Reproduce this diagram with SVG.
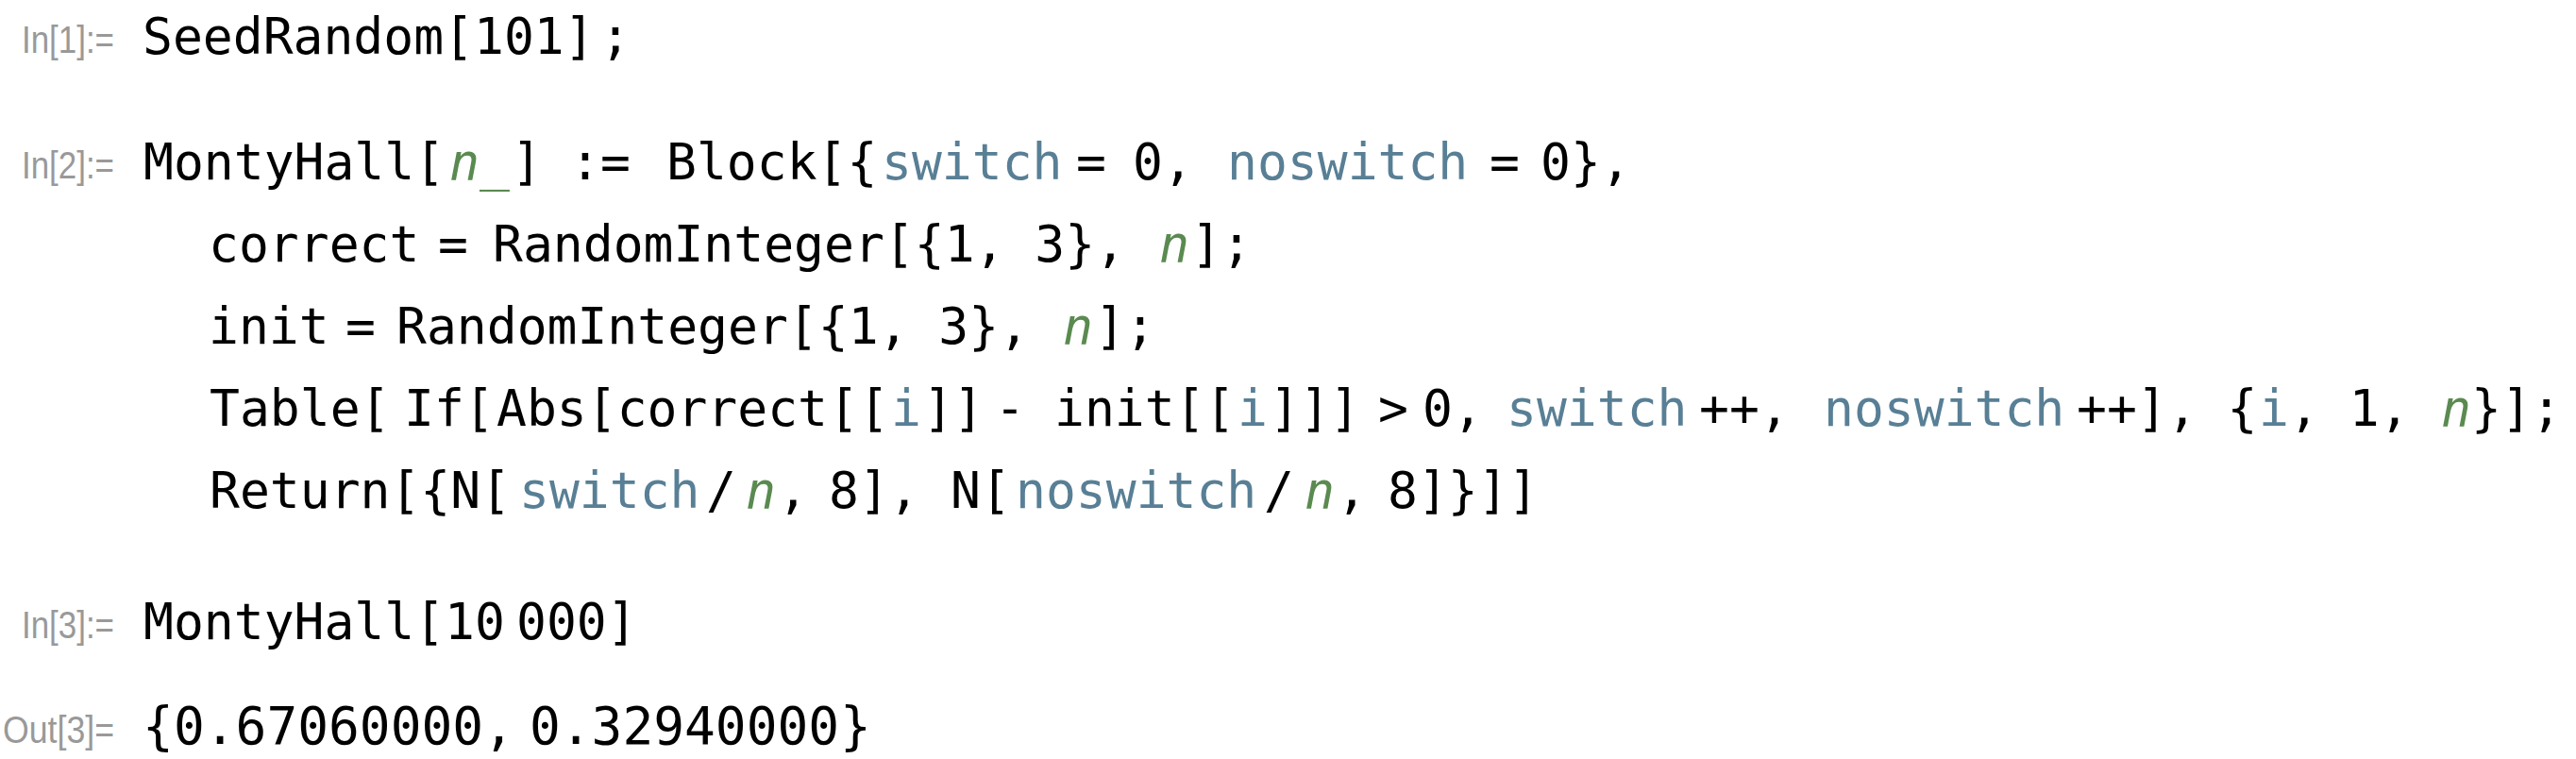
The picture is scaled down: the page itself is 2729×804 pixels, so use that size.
<svg xmlns="http://www.w3.org/2000/svg" width="2729" height="804" viewBox="0 0 2729 804">
<style>
.code{font-family:"DejaVu Sans Mono","Liberation Mono",monospace;font-size:53px;fill:#000;white-space:pre}
.out{font-size:54.5px}
.sp{font-size:10px}
.lbl{font-family:"Liberation Sans","Noto Sans",sans-serif;font-size:40px;fill:#999;text-anchor:end;white-space:pre}
.b{fill:#587f95}
.g{fill:#5a8a50;font-style:italic}
</style>
<rect x="0" y="0" width="2729" height="804" fill="#fff"/>
<g id="cell-in1">
<text class="lbl" x="121" y="56" textLength="98" lengthAdjust="spacingAndGlyphs">In[1]:=</text>
<text class="code" y="57"><tspan x="151">SeedRandom[101]</tspan><tspan x="636">;</tspan></text>
</g>
<g id="cell-in2">
<text class="lbl" x="121" y="189" textLength="98" lengthAdjust="spacingAndGlyphs">In[2]:=</text>
<text class="code" y="190"><tspan x="152">MontyHall[</tspan><tspan x="476" class="g">n_</tspan><tspan x="542">]</tspan><tspan class="sp"> </tspan><tspan x="604">:=</tspan><tspan class="sp"> </tspan><tspan x="706">Block[{</tspan><tspan x="934" class="b">switch</tspan><tspan class="sp"> </tspan><tspan x="1140">=</tspan><tspan class="sp"> </tspan><tspan x="1200">0,</tspan><tspan class="sp"> </tspan><tspan x="1300" class="b">noswitch</tspan><tspan class="sp"> </tspan><tspan x="1578">=</tspan><tspan class="sp"> </tspan><tspan x="1632">0},</tspan></text>
<text class="code" y="277"><tspan x="221">correct</tspan><tspan class="sp"> </tspan><tspan x="464">=</tspan><tspan class="sp"> </tspan><tspan x="522">RandomInteger[{1, 3}, </tspan><tspan x="1228" class="g">n</tspan><tspan x="1262">];</tspan></text>
<text class="code" y="364"><tspan x="221">init</tspan><tspan class="sp"> </tspan><tspan x="366">=</tspan><tspan class="sp"> </tspan><tspan x="420">RandomInteger[{1, 3}, </tspan><tspan x="1126" class="g">n</tspan><tspan x="1160">];</tspan></text>
<text class="code" y="451"><tspan x="222">Table[</tspan><tspan class="sp"> </tspan><tspan x="428">If[</tspan><tspan x="526">Abs[correct</tspan><tspan x="878">[[</tspan><tspan x="944" class="b">i</tspan><tspan x="978">]]</tspan><tspan class="sp"> </tspan><tspan x="1054">-</tspan><tspan class="sp"> </tspan><tspan x="1117">init[[</tspan><tspan x="1311" class="b">i</tspan><tspan x="1345">]]]</tspan><tspan class="sp"> </tspan><tspan x="1460">&gt;</tspan><tspan class="sp"> </tspan><tspan x="1507">0,</tspan><tspan class="sp"> </tspan><tspan x="1596" class="b">switch</tspan><tspan x="1800">++,</tspan><tspan class="sp"> </tspan><tspan x="1932" class="b">noswitch</tspan><tspan x="2200">++], {</tspan><tspan x="2393" class="b">i</tspan><tspan x="2425">, 1, </tspan><tspan x="2586" class="g">n</tspan><tspan x="2618">}];</tspan></text>
<text class="code" y="538"><tspan x="222">Return[{N[</tspan><tspan x="550" class="b">switch</tspan><tspan x="748">/</tspan><tspan x="790" class="g">n</tspan><tspan x="824">,</tspan><tspan class="sp"> </tspan><tspan x="878">8],</tspan><tspan class="sp"> </tspan><tspan x="1007">N[</tspan><tspan x="1076" class="b">noswitch</tspan><tspan x="1339">/</tspan><tspan x="1382" class="g">n</tspan><tspan x="1416">,</tspan><tspan class="sp"> </tspan><tspan x="1470">8]}]]</tspan></text>
</g>
<g id="cell-in3">
<text class="lbl" x="121" y="676" textLength="98" lengthAdjust="spacingAndGlyphs">In[3]:=</text>
<text class="code" y="677"><tspan x="152">MontyHall[10</tspan><tspan class="sp"> </tspan><tspan x="547">000]</tspan></text>
</g>
<g id="cell-out3">
<text class="lbl" x="121" y="787" textLength="118" lengthAdjust="spacingAndGlyphs">Out[3]=</text>
<text class="code out" y="788"><tspan x="151">{</tspan><tspan x="184">0.67060000</tspan><tspan x="512">,</tspan><tspan class="sp"> </tspan><tspan x="561">0.32940000</tspan><tspan x="890">}</tspan></text>
</g>
</svg>
